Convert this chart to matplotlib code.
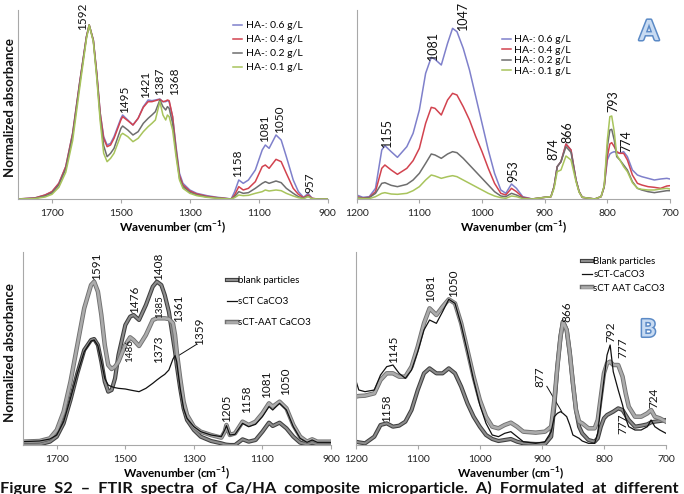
import matplotlib
matplotlib.use('Agg')
import matplotlib.pyplot as plt
import matplotlib.patheffects as pe

plt.rcParams['font.family'] = ['Lato', 'DejaVu Sans']
plt.rcParams['mathtext.fontset'] = 'custom'
plt.rcParams['mathtext.rm'] = 'Lato'
plt.rcParams['mathtext.bf'] = 'Lato:bold'

# ---------------- Panel A, left (1800-900 cm-1) ----------------
wn_a1 = [1800, 1750, 1720, 1700, 1680, 1660, 1640, 1620, 1600, 1592, 1580, 1570, 1560, 1550,
         1540, 1530, 1520, 1500, 1495, 1480, 1465, 1450, 1435, 1421, 1410, 1400, 1387, 1378,
         1370, 1365, 1360, 1350, 1340, 1330, 1320, 1300, 1280, 1250, 1220, 1200, 1180, 1170,
         1158, 1145, 1130, 1110, 1090, 1081, 1070, 1050, 1035, 1020, 1000, 985, 970, 957, 945,
         930, 900]
ha06_a1 = [0, 3, 12, 22, 47, 97, 197, 347, 487, 522, 477, 377, 257, 187,
           162, 167, 187, 242, 252, 237, 222, 242, 277, 297, 295, 297, 300, 292,
           292, 295, 292, 247, 157, 77, 47, 27, 17, 10, 5, 3, 0, 22,
           57, 47, 57, 87, 147, 162, 152, 192, 177, 127, 57, 22, 5, 17, 2,
           0, 0]
ha04_a1 = [0, 3, 12, 22, 47, 97, 197, 347, 487, 522, 477, 377, 257, 182,
           157, 162, 182, 237, 247, 235, 222, 242, 275, 292, 292, 295, 299, 292,
           294, 297, 295, 247, 150, 70, 42, 24, 15, 8, 4, 2, 0, 12,
           37, 27, 32, 52, 97, 102, 92, 119, 112, 77, 32, 14, 4, 12, 2,
           0, 0]
ha02_a1 = [0, 2, 9, 18, 42, 90, 190, 342, 485, 522, 475, 370, 245, 160,
           127, 137, 152, 212, 219, 207, 192, 202, 227, 242, 252, 262, 297, 277,
           267, 277, 272, 227, 140, 62, 37, 20, 12, 6, 3, 1, 0, 7,
           22, 17, 19, 32, 47, 52, 47, 54, 49, 32, 17, 7, 2, 9, 1,
           0, 0]
ha01_a1 = [0, 1, 6, 14, 35, 80, 175, 330, 480, 522, 472, 362, 232, 137,
           112, 122, 137, 192, 197, 187, 172, 182, 202, 217, 227, 237, 292, 252,
           237, 252, 247, 207, 127, 57, 32, 17, 10, 5, 2, 1, 0, 4,
           12, 10, 11, 17, 22, 27, 24, 27, 25, 17, 9, 4, 1, 7, 1,
           0, 0]

# ---------------- Panel A, right (1200-700 cm-1) ----------------
wn_a2 = [1200, 1190, 1180, 1170, 1160, 1155, 1145, 1135, 1120, 1110, 1100, 1090, 1081, 1075,
         1065, 1055, 1047, 1040, 1030, 1020, 1010, 1000, 990, 980, 970, 962, 953, 945, 935,
         920, 900, 890, 885, 880, 874, 866, 858, 850, 845, 840, 820, 810, 805, 800, 796, 793,
         789, 785, 780, 774, 768, 760, 752, 745, 735, 725, 715, 705, 700]
ha06_a2 = [12, 5, 7, 32, 147, 160, 142, 125, 157, 197, 267, 377, 425, 419,
           402, 467, 512, 502, 452, 387, 307, 227, 147, 77, 27, 17, 45, 32, 7,
           0, 5, 7, 37, 97, 112, 165, 147, 57, 22, 5, 0, 7, 37, 117, 135, 139,
           142, 139, 137, 142, 127, 87, 72, 67, 62, 57, 60, 62, 60]
ha04_a2 = [7, 3, 5, 22, 92, 102, 87, 74, 92, 115, 152, 227, 275, 272,
           252, 297, 317, 312, 277, 237, 187, 142, 92, 47, 17, 12, 32, 22, 5,
           0, 5, 7, 37, 97, 112, 165, 147, 57, 22, 5, 0, 7, 37, 127, 165, 169,
           157, 142, 137, 137, 117, 72, 47, 42, 37, 35, 32, 39, 40]
ha02_a2 = [5, 2, 4, 17, 47, 49, 41, 37, 44, 57, 77, 107, 135, 132,
           122, 135, 142, 139, 122, 102, 82, 62, 42, 22, 9, 7, 17, 12, 3,
           0, 5, 7, 37, 97, 112, 157, 140, 57, 22, 5, 0, 7, 37, 157, 207, 209,
           177, 127, 117, 102, 87, 52, 32, 27, 22, 19, 22, 25, 25]
ha01_a2 = [3, 1, 1, 7, 17, 19, 15, 14, 17, 25, 37, 57, 72, 69,
           62, 67, 70, 67, 57, 47, 37, 27, 17, 9, 4, 2, 9, 7, 1,
           0, 5, 7, 32, 82, 87, 129, 117, 52, 20, 5, 0, 7, 40, 177, 247, 249,
           202, 132, 117, 97, 82, 49, 32, 29, 27, 27, 30, 32, 30]

# ---------------- Panel B, left (1800-900 cm-1) ----------------
wn_b1 = [1800, 1750, 1720, 1700, 1680, 1660, 1640, 1620, 1600, 1591, 1580, 1570, 1560, 1550,
         1540, 1530, 1520, 1500, 1486, 1476, 1460, 1440, 1420, 1408, 1395, 1385, 1373, 1361,
         1355, 1350, 1340, 1330, 1320, 1300, 1280, 1250, 1220, 1210, 1205, 1195, 1180, 1158,
         1140, 1120, 1100, 1081, 1070, 1050, 1030, 1010, 990, 970, 955, 940, 900]
blank_b1 = [0, 2, 10, 25, 65, 135, 215, 285, 315, 318, 300, 250, 190, 160,
            165, 200, 270, 360, 385, 390, 375, 420, 475, 490, 480, 450, 400, 320,
            280, 240, 170, 110, 75, 45, 25, 12, 5, 2, 1, 0, 0, 17,
            10, 15, 40, 67, 57, 67, 50, 25, 7, 2, 7, 2, 0]
sct_b1 = [10, 12, 18, 30, 70, 140, 215, 280, 312, 315, 298, 250, 200, 180,
          175, 172, 170, 168, 165, 163, 160, 170, 185, 195, 205, 212, 225, 258,
          268, 250, 170, 110, 80, 55, 40, 30, 25, 45, 58, 30, 32, 65,
          55, 62, 85, 115, 105, 125, 105, 55, 20, 8, 15, 8, 8]
aat_b1 = [10, 12, 20, 45, 100, 190, 300, 410, 480, 490, 460, 390, 300, 240,
          228, 235, 250, 300, 323, 315, 297, 330, 375, 380, 380, 380, 378, 365,
          330, 280, 200, 130, 90, 55, 40, 30, 22, 40, 60, 30, 35, 70,
          60, 70, 95, 125, 115, 130, 110, 60, 25, 10, 17, 10, 10]

# ---------------- Panel B, right (1200-700 cm-1) ----------------
wn_b2 = [1200, 1195, 1185, 1170, 1160, 1150, 1140, 1130, 1120, 1110, 1100, 1090, 1081, 1070,
         1060, 1050, 1040, 1030, 1020, 1010, 1000, 990, 980, 970, 960, 950, 940, 930, 910,
         895, 885, 880, 875, 870, 866, 860, 855, 850, 845, 840, 835, 825, 815, 810, 805, 800,
         795, 790, 785, 777, 770, 765, 760, 750, 740, 730, 724, 718, 710, 700]
blank_b2 = [10, 8, 5, 25, 60, 65, 55, 58, 70, 105, 165, 215, 230, 215,
            215, 230, 215, 175, 125, 85, 55, 30, 18, 12, 15, 18, 10, 5, 3,
            3, 25, 115, 235, 325, 370, 345, 275, 185, 105, 55, 35, 15, 10, 20, 55, 80,
            90, 95, 100, 110, 105, 90, 75, 55, 58, 62, 68, 70, 72, 75]
sct_b2 = [195, 165, 160, 165, 210, 235, 240, 215, 200, 225, 280, 345, 375, 365,
          400, 437, 425, 360, 280, 195, 120, 65, 30, 25, 35, 40, 25, 10, 5,
          10, 40, 85, 95, 100, 95, 85, 60, 30, 25, 20, 12, 5, 5, 35, 120, 195,
          270, 300, 220, 165, 120, 80, 55, 45, 45, 55, 75, 55, 45, 35]
aat_b2 = [145, 147, 148, 155, 195, 215, 215, 205, 205, 235, 295, 365, 410, 390,
          415, 437, 425, 365, 285, 205, 135, 85, 55, 50, 60, 67, 55, 40, 37,
          40, 55, 135, 235, 325, 370, 345, 275, 185, 105, 70, 65, 50, 50, 75, 145, 215,
          245, 250, 240, 240, 205, 155, 115, 85, 85, 95, 105, 85, 80, 70]

labels_a = ['HA-: 0.6 g/L', 'HA-: 0.4 g/L', 'HA-: 0.2 g/L', 'HA-: 0.1 g/L']
colors_a = ['#7F80CB', '#D2434F', '#6E6E6E', '#A8C45C']

W, H = 684, 494
fig = plt.figure(figsize=(W / 100, H / 100), dpi=100)


def add_ax(x0, x1, ytop, ybot):
    return fig.add_axes([x0 / W, 1 - ybot / H, (x1 - x0) / W, (ybot - ytop) / H])


ax1 = add_ax(17.5, 327.7, 10, 199)
ax2 = add_ax(356.7, 670, 10, 199)
ax3 = add_ax(22.5, 331, 252, 445)
ax4 = add_ax(355.7, 666, 252, 445)

for ax, (lo, hi), ticks, ytop in [(ax1, (1800, 900), [1700, 1500, 1300, 1100, 900], 567),
                                  (ax2, (1200, 700), [1200, 1100, 1000, 900, 800, 700], 567),
                                  (ax3, (1800, 900), [1700, 1500, 1300, 1100, 900], 579),
                                  (ax4, (1200, 700), [1200, 1100, 1000, 900, 800, 700], 579)]:
    ax.set_xlim(lo, hi)
    ax.set_ylim(0, ytop)
    ax.set_xticks(ticks)
    ax.set_yticks([])
    for s in ['top', 'right']:
        ax.spines[s].set_visible(False)
    for s in ['bottom', 'left']:
        ax.spines[s].set_color('#a8a8a8')
        ax.spines[s].set_linewidth(0.8)
    ax.tick_params(axis='x', direction='out', length=3, width=0.8, color='#a8a8a8',
                   labelsize=7.5, labelcolor='#222222', pad=4)
    ax.patch.set_alpha(0)

xl = r'Wavenumber (cm$^{\mathbf{-1}}$)'
for ax in [ax1, ax2, ax3, ax4]:
    ax.set_xlabel(xl, fontsize=8.5, fontweight='bold', labelpad=1)

# Panel A curves
series_a1 = [ha06_a1, ha04_a1, ha02_a1, ha01_a1]
series_a2 = [ha06_a2, ha04_a2, ha02_a2, ha01_a2]
for ys, c, l in zip(series_a1, colors_a, labels_a):
    ax1.plot(wn_a1, ys, color=c, lw=1.1, label=l)
for ys, c, l in zip(series_a2, colors_a, labels_a):
    ax2.plot(wn_a2, ys, color=c, lw=1.1, label=l)

leg_kw = dict(frameon=False, fontsize=7.5, handlelength=0.9, handletextpad=0.3,
              borderpad=0, borderaxespad=0, bbox_transform=fig.transFigure, loc='upper left')
ax1.legend(bbox_to_anchor=(233 / W, 1 - 21 / H), labelspacing=0.45, **leg_kw)
ax2.legend(bbox_to_anchor=(502 / W, 1 - 35 / H), labelspacing=0.12, **leg_kw)


def lab(ax, w, a, s, va='bottom', fs=8.5):
    ax.text(w, a, s, rotation=90, ha='center', va=va, fontsize=fs, color='#111111')


for w, a, s in [(1610, 507, '1592'), (1489, 257, '1495'), (1429, 302, '1421'),
                (1389, 312, '1387'), (1344, 312, '1368'), (1162, 67, '1158'),
                (1084, 172, '1081'), (1041, 197, '1050'), (952, 17, '957')]:
    lab(ax1, w, a, s)
for w, a, s in [(1152, 157, '1155'), (1078, 417, '1081'), (1030, 507, '1047'),
                (950, 52, '953'), (886, 117, '874'), (863, 167, '866'),
                (791, 262, '793'), (769, 142, '774')]:
    lab(ax2, w, a, s, fs=9)

# Panel B curves
thick_blank = [pe.Stroke(linewidth=3.0, foreground='#3f3f3f'), pe.Normal()]
thick_aat = [pe.Stroke(linewidth=3.2, foreground='#707070'), pe.Normal()]

ax3.plot(wn_b1, blank_b1, color='#8c8c8c', lw=1.5, path_effects=thick_blank, label='blank particles')
ax3.plot(wn_b1, aat_b1, color='#ababab', lw=1.9, path_effects=thick_aat, label='sCT-AAT CaCO3', zorder=2.1)
ax3.plot(wn_b1, sct_b1, color='#111111', lw=0.9, label='sCT CaCO3', zorder=2.2)
h, l = ax3.get_legend_handles_labels()
order = [0, 2, 1]
leg_kw2 = dict(leg_kw)
leg_kw2['fontsize'] = 7
leg_kw2['handlelength'] = 1.0
leg_kw2['handletextpad'] = 0.15
ax3.legend([h[i] for i in order], [l[i] for i in order],
           bbox_to_anchor=(227 / W, 1 - 276 / H), labelspacing=1.25, **leg_kw2)

ax4.plot(wn_b2, blank_b2, color='#8c8c8c', lw=1.5, path_effects=thick_blank, label='Blank particles')
ax4.plot(wn_b2, aat_b2, color='#ababab', lw=1.9, path_effects=thick_aat, label='sCT AAT CaCO3', zorder=2.1)
ax4.plot(wn_b2, sct_b2, color='#111111', lw=0.9, label='sCT-CaCO3', zorder=2.2)
h, l = ax4.get_legend_handles_labels()
ax4.legend([h[i] for i in order], [l[i] for i in order],
           bbox_to_anchor=(582 / W, 1 - 257 / H), labelspacing=0.45, **leg_kw2)

for w, a, s in [(1583, 495, '1591'), (1472, 395, '1476'), (1404, 495, '1408'),
                (1346, 370, '1361'), (1284, 300, '1359'), (1205, 70, '1205'),
                (1147, 95, '1158'), (1088, 142, '1081'), (1032, 150, '1050')]:
    lab(ax3, w, a, s)
lab(ax3, 1399, 382, '1385', fs=7)
lab(ax3, 1486, 318, '1486', va='top', fs=7)
lab(ax3, 1404, 330, '1373', va='top')
ax3.plot([1350, 1292], [265, 302], color='#111111', lw=0.7)

for w, a, s in [(1139, 245, '1145'), (1079, 430, '1081'), (1043, 445, '1050'),
                (1150, 70, '1158'), (904, 175, '877'), (860, 370, '866'),
                (789, 310, '792'), (769, 262, '777'), (720, 110, '724')]:
    lab(ax4, w, a, s)
lab(ax4, 769, 95, '777', va='top')
ax4.plot([892, 868], [176, 100], color='#111111', lw=0.7)

# y labels
for yc in [108, 353]:
    fig.text(10 / W, 1 - yc / H, 'Normalized absorbance', rotation=90, ha='center',
             va='center', fontsize=9.5, fontweight='bold', color='#111111')

# panel letters
for x, y, s, fs in [(649, 32, 'A', 20), (648, 329, 'B', 17)]:
    fig.text(x / W, 1 - y / H, s, ha='center', va='center', fontsize=fs, fontweight='bold',
             color='#C8DBF2', path_effects=[pe.withStroke(linewidth=2.2, foreground='#5B8AC6')])

# caption (cut off at bottom, as in the source page)
fig.text(0.0, 1 - 481 / H,
         'Figure  S2  \u2013  FTIR  spectra  of  Ca/HA  composite  microparticle.  A)  Formulated  at  different',
         ha='left', va='top', fontsize=11.8, fontweight='bold', color='#111111')

fig.savefig('out.png', dpi=100)
